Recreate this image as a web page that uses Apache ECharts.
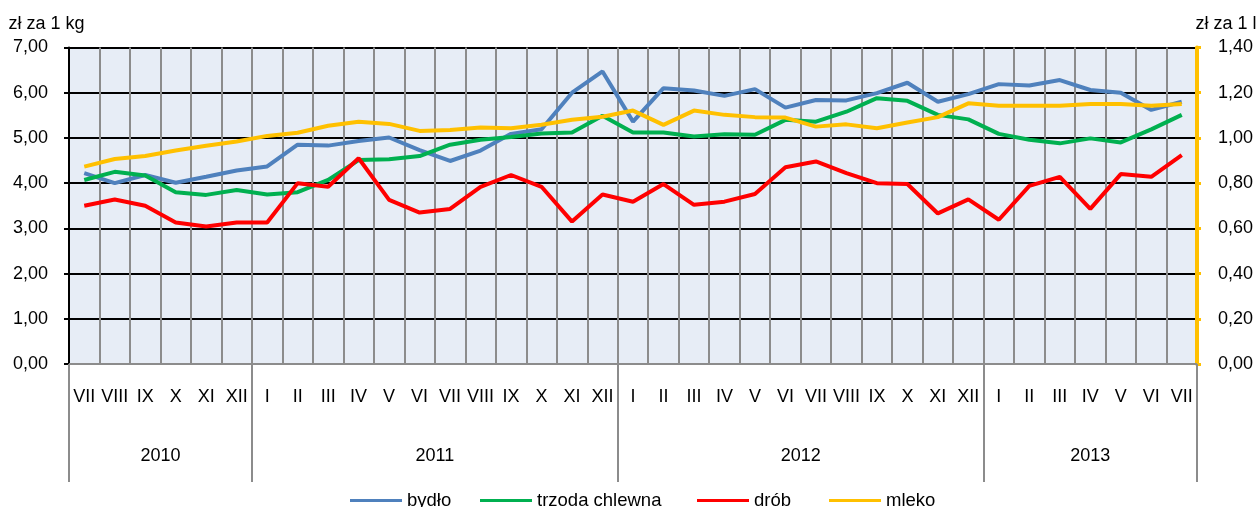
<!DOCTYPE html>
<html lang="pl">
<head>
    <meta charset="UTF-8">
    <title>Ceny produktów rolnych</title>
    <style>
        html, body { margin: 0; padding: 0; background: #fff; }
        #container { width: 1260px; height: 507px; }
    </style>
</head>
<body>
    <div id="container"></div>
    <script src="https://cdn.jsdelivr.net/npm/echarts@6/dist/echarts.min.js"></script>
    <script>
        // miesiące VII 2010 - VII 2013
        const months = ['VII','VIII','IX','X','XI','XII',
            'I','II','III','IV','V','VI','VII','VIII','IX','X','XI','XII',
            'I','II','III','IV','V','VI','VII','VIII','IX','X','XI','XII',
            'I','II','III','IV','V','VI','VII'];
        const years = ['2010', '2011', '2012', '2013'];
        const yearBounds = [0, 6, 18, 30, 37];

        // zł za 1 kg
        const bydlo = [4.22, 4.00, 4.18, 4.01, 4.14, 4.28, 4.37, 4.85, 4.83, 4.93, 5.01, 4.73,
            4.49, 4.72, 5.09, 5.19, 6.00, 6.47, 5.36, 6.10, 6.05, 5.93, 6.08, 5.67,
            5.84, 5.83, 5.99, 6.22, 5.80, 5.97, 6.19, 6.16, 6.28, 6.06, 6.00, 5.62, 5.80];
        const trzoda = [4.07, 4.25, 4.17, 3.80, 3.74, 3.85, 3.75, 3.80, 4.07, 4.51, 4.53, 4.60,
            4.85, 4.96, 5.02, 5.10, 5.12, 5.49, 5.12, 5.12, 5.03, 5.08, 5.07, 5.40,
            5.36, 5.58, 5.88, 5.82, 5.51, 5.41, 5.09, 4.96, 4.88, 4.99, 4.90, 5.19, 5.51];
        const drob = [3.50, 3.64, 3.50, 3.13, 3.04, 3.13, 3.13, 4.00, 3.92, 4.55, 3.63, 3.35,
            3.43, 3.92, 4.18, 3.92, 3.15, 3.75, 3.59, 3.98, 3.52, 3.59, 3.76, 4.35,
            4.48, 4.22, 4.00, 3.98, 3.33, 3.64, 3.19, 3.94, 4.14, 3.43, 4.20, 4.14, 4.62];
        // zł za 1 l
        const mleko = [0.873, 0.907, 0.920, 0.944, 0.965, 0.984, 1.009, 1.023, 1.054, 1.072, 1.062, 1.031,
            1.035, 1.046, 1.043, 1.058, 1.080, 1.094, 1.121, 1.058, 1.121, 1.102, 1.092, 1.090,
            1.050, 1.060, 1.043, 1.068, 1.092, 1.153, 1.142, 1.142, 1.142, 1.150, 1.150, 1.142, 1.150];

        const names = ['bydło', 'trzoda chlewna', 'drób', 'mleko'];
        const colors = ['#4F81BD', '#00B050', '#FF0000', '#FFC000'];
        const legendLeft = [345, 475, 692, 824];

        const font = 'Liberation Sans, Arial, sans-serif';
        const fs = 18;
        const fmt = v => v.toFixed(2).replace('.', ',');

        // środki lat na osi pomocniczej
        const yearCenters = years.map((y, i) => (yearBounds[i] + yearBounds[i + 1]) / 2);

        function line(idx, data, yIdx) {
            return {
                name: names[idx],
                type: 'line',
                data: data,
                yAxisIndex: yIdx,
                symbol: 'none',
                lineStyle: { color: colors[idx], width: 4 },
                itemStyle: { color: colors[idx] },
                z: 3
            };
        }

        // osobna legenda dla każdej serii (nierówne odstępy jak w oryginale)
        const legends = names.map((n, i) => ({
            left: legendLeft[i], top: 486,
            icon: 'rect',
            itemWidth: 52, itemHeight: 3, itemGap: 0,
            textStyle: { fontSize: 18.5, color: '#000', fontFamily: font },
            data: [n]
        }));

        const option = {
            animation: false,
            textStyle: { fontFamily: font },
            grid: {
                left: 69, right: 63, top: 47.5, bottom: 143,
                show: true, backgroundColor: '#E7EDF6', borderWidth: 0
            },
            legend: legends,
            xAxis: [
                {
                    type: 'category',
                    data: months,
                    boundaryGap: true,
                    axisLine: { lineStyle: { color: '#8C8C8C', width: 2 } },
                    axisTick: { interval: 0, length: 59, lineStyle: { color: '#8C8C8C', width: 2 } },
                    axisLabel: { interval: 0, margin: 24, fontSize: fs, color: '#000', fontFamily: font },
                    splitLine: { show: true, interval: 0, lineStyle: { color: '#8C8C8C', width: 2 } }
                },
                {
                    type: 'value',
                    position: 'bottom',
                    min: 0, max: 37,
                    axisLine: { show: false },
                    splitLine: { show: false },
                    axisTick: {
                        show: true, length: 118, customValues: yearBounds,
                        lineStyle: { color: '#8C8C8C', width: 2 }
                    },
                    axisLabel: {
                        margin: 83, fontSize: fs, color: '#000', fontFamily: font,
                        customValues: yearCenters,
                        formatter: v => years[yearCenters.indexOf(v)]
                    }
                }
            ],
            yAxis: [
                {
                    type: 'value',
                    min: 0, max: 7, interval: 1,
                    name: 'zł za 1 kg',
                    nameGap: 14,
                    nameTextStyle: { fontSize: fs, color: '#000', fontFamily: font, padding: [0, 45, 0, 0] },
                    axisLine: { show: true, lineStyle: { color: '#000', width: 2 } },
                    axisTick: { show: true, length: 5, lineStyle: { color: '#000', width: 2 } },
                    axisLabel: { margin: 21, fontSize: fs, color: '#000', fontFamily: font, formatter: fmt },
                    splitLine: { show: true, lineStyle: { color: '#000', width: 2 } }
                },
                {
                    type: 'value',
                    position: 'right',
                    min: 0, max: 1.4, interval: 0.2,
                    name: 'zł za 1 l',
                    nameGap: 14,
                    nameTextStyle: { fontSize: fs, color: '#000', fontFamily: font, padding: [0, 0, 0, 58] },
                    axisLine: { show: true, lineStyle: { color: '#FFC000', width: 4 } },
                    axisTick: { show: true, length: 4, lineStyle: { color: '#FFC000', width: 3 } },
                    axisLabel: { margin: 21, fontSize: fs, color: '#000', fontFamily: font, formatter: fmt },
                    splitLine: { show: false }
                }
            ],
            series: [
                line(0, bydlo, 0),
                line(1, trzoda, 0),
                line(2, drob, 0),
                line(3, mleko, 1)
            ]
        };

        const chart = echarts.init(document.getElementById('container'));
        chart.setOption(option);
    </script>
</body>
</html>
